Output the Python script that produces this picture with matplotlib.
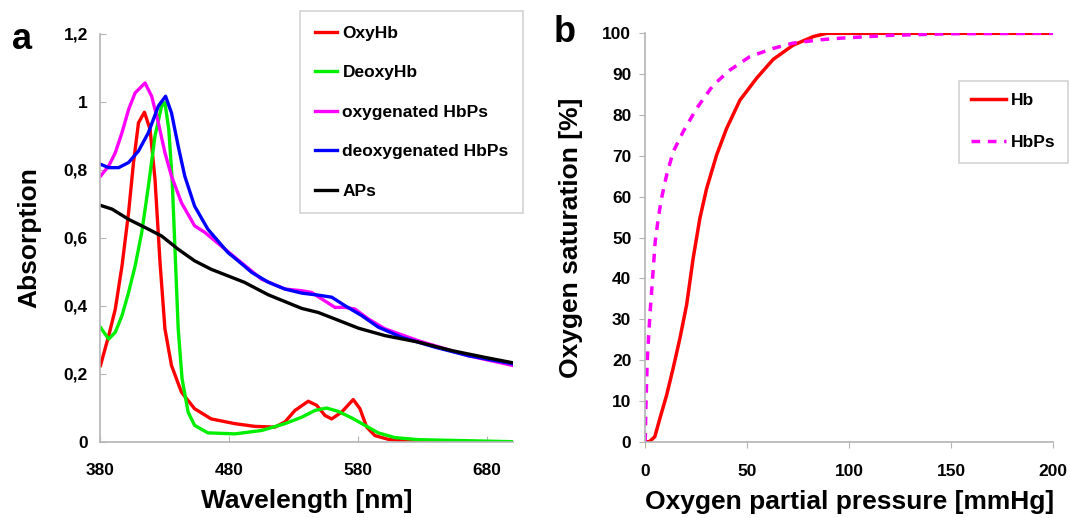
import matplotlib
matplotlib.use("Agg")
import matplotlib.pyplot as plt
from matplotlib.ticker import FuncFormatter

plt.rcParams['font.family'] = ['Liberation Sans', 'DejaVu Sans']
plt.rcParams['font.weight'] = 'bold'

# panel a - absorption spectra
wl_oxy = [380, 386.4, 391.5, 396.7, 401.8, 405.6, 409.5, 414.1, 418.5, 422.3, 426.2, 430,
          435.1, 442.8, 453, 465.9, 484.3, 499.9, 515.4, 523.1, 530.9, 541.2, 547.7, 554.2,
          559.4, 567.1, 576.1, 581.3, 586.5, 592.9, 603.3, 618.8, 700]
oxyhb = [0.224, 0.312, 0.39, 0.517, 0.674, 0.82, 0.938, 0.969, 0.918, 0.772, 0.527, 0.332,
         0.224, 0.146, 0.097, 0.067, 0.053, 0.045, 0.043, 0.058, 0.092, 0.119, 0.107, 0.077,
         0.067, 0.087, 0.124, 0.097, 0.043, 0.018, 0.007, 0.0, 0.0]

wl_deoxy = [380, 386.4, 391.5, 396.7, 401.8, 406.9, 412, 417.2, 422.3, 427.4, 430, 433, 435.6,
            437.7, 440.3, 443.3, 448, 453, 463.3, 484.3, 505, 523.1, 536.1, 546.4, 555.4,
            564.5, 574.9, 585.2, 595.5, 608.5, 626.5, 700]
deoxyhb = [0.336, 0.302, 0.322, 0.371, 0.439, 0.517, 0.615, 0.752, 0.899, 0.987, 0.997, 0.918,
           0.772, 0.576, 0.332, 0.185, 0.087, 0.048, 0.026, 0.023, 0.033, 0.053, 0.072, 0.092,
           0.099, 0.089, 0.07, 0.048, 0.026, 0.012, 0.006, 0.0]

wl_oxy_hbps = [380, 386.4, 391.5, 396.7, 401.8, 406.9, 414.6, 419.7, 424.9, 430, 435.1, 442.8,
               453, 460.8, 484.3, 505, 523.1, 536.1, 543.8, 551.6, 561.9, 569.7, 577.4, 587.8,
               600.7, 626.5, 665.3, 700]
oxy_hbps = [0.781, 0.811, 0.85, 0.909, 0.977, 1.026, 1.055, 1.016, 0.938, 0.85, 0.781, 0.703,
            0.635, 0.616, 0.542, 0.478, 0.449, 0.444, 0.439, 0.42, 0.395, 0.395, 0.39, 0.361,
            0.332, 0.297, 0.253, 0.224]

wl_deoxy_hbps = [380, 386.4, 394.1, 401.8, 409.5, 417.2, 424.9, 430.5, 435.1, 440.3, 445.4,
                 453, 463.3, 478.7, 491.5, 497.3, 510.2, 523.1, 536.1, 549, 559.4, 569.7,
                 582.6, 595.5, 613.7, 639.5, 665.3, 700]
deoxy_hbps = [0.816, 0.806, 0.806, 0.821, 0.855, 0.909, 0.987, 1.016, 0.967, 0.869, 0.781,
              0.693, 0.625, 0.557, 0.517, 0.498, 0.469, 0.449, 0.437, 0.431, 0.425, 0.4,
              0.371, 0.337, 0.307, 0.278, 0.253, 0.229]

wl_aps = [380, 389, 401.8, 414.6, 427.4, 440.3, 453, 465.9, 478.7, 491.5, 510.2, 536.1, 549,
          561.9, 580, 600.7, 626.5, 652.4, 678.3, 700]
aps = [0.695, 0.684, 0.654, 0.63, 0.605, 0.566, 0.532, 0.507, 0.488, 0.469, 0.432, 0.392,
       0.38, 0.361, 0.334, 0.312, 0.293, 0.268, 0.248, 0.232]

# panel b - oxygen saturation curves
po2_hb = [0, 2, 4.7, 7.2, 10.5, 13.7, 17, 20.3, 23.5, 26.8, 30.1, 35, 39.9, 46.4, 54.6, 62.7,
          72.5, 82.4, 88.9, 200]
sat_hb = [0, 0, 1.2, 5.7, 11.4, 18, 25.3, 33.5, 44.9, 54.7, 62, 70.2, 76.7, 83.6, 89, 93.6,
          97.1, 99.2, 100, 100]
po2_hbps = [0, 0.3, 1, 2.3, 3.6, 4.9, 6.4, 8, 10.5, 13.7, 18.6, 25.2, 33.3, 41.5, 51.3, 62.7,
            72.5, 85.6, 95.4, 120, 150, 200]
sat_hbps = [0, 8, 20, 31, 40, 49, 54.7, 59.6, 65.3, 71, 75.9, 81.6, 87.3, 91, 94.3, 96.3,
            97.6, 98.4, 98.8, 99.5, 99.9, 100]

fig = plt.figure(figsize=(10.7, 5.18), dpi=100)
axa = fig.add_axes([0.0939, 0.1473, 0.3855, 0.7877])
axb = fig.add_axes([0.603, 0.1473, 0.3813, 0.7884])

lw = 2.4
axa.plot(wl_oxy, oxyhb, color='#ff0000', lw=lw, label='OxyHb')
axa.plot(wl_deoxy, deoxyhb, color='#00ee00', lw=lw, label='DeoxyHb')
axa.plot(wl_oxy_hbps, oxy_hbps, color='#ff00ff', lw=lw, label='oxygenated HbPs')
axa.plot(wl_deoxy_hbps, deoxy_hbps, color='#0000ff', lw=lw, label='deoxygenated HbPs')
axa.plot(wl_aps, aps, color='black', lw=lw, label='APs')

axa.set_xlim(380, 700)
axa.set_ylim(0, 1.2)
axa.set_xticks([380, 480, 580, 680])
axa.set_yticks([0, 0.2, 0.4, 0.6, 0.8, 1.0, 1.2])
axa.yaxis.set_major_formatter(FuncFormatter(lambda v, p: ('%g' % round(v, 1)).replace('.', ',')))
axa.set_xlabel('Wavelength [nm]', fontsize=19, fontweight='bold', labelpad=8)
axa.set_ylabel('Absorption', fontsize=19, fontweight='bold', labelpad=16)
axa.tick_params(axis='x', direction='in', length=4, pad=15)
axa.tick_params(axis='y', direction='in', length=4, pad=9)
leg = axa.legend(loc='upper left', bbox_to_anchor=(0.4836, 1.0556), fontsize=12.5, frameon=True,
                 fancybox=False, handlelength=1.3, handletextpad=0.3, labelspacing=1.4,
                 borderpad=0.85, borderaxespad=0)
leg.get_frame().set_edgecolor('#c8c8c8')
leg.get_frame().set_linewidth(1.2)

axb.plot(po2_hb, sat_hb, color='#ff0000', lw=2.5, label='Hb')
axb.plot(po2_hbps, sat_hbps, color='#ff00ff', lw=2.5, ls=(0, (2.5, 2.2)), label='HbPs')
axb.set_xlim(0, 200)
axb.set_ylim(0, 100)
axb.set_xticks([0, 50, 100, 150, 200])
axb.set_yticks(range(0, 101, 10))
axb.set_xlabel('Oxygen partial pressure [mmHg]', fontsize=19, fontweight='bold', labelpad=8)
axb.set_ylabel('Oxygen saturation [%]', fontsize=19, fontweight='bold', labelpad=14)
axb.tick_params(axis='x', direction='out', length=4, pad=12)
axb.tick_params(axis='y', direction='out', length=4, pad=6)
legb = axb.legend(loc='upper left', bbox_to_anchor=(0.769, 0.884), fontsize=12.5, frameon=True,
                  fancybox=False, handlelength=2.0, handletextpad=0.3, labelspacing=1.57,
                  borderpad=0.7, borderaxespad=0)
legb.get_frame().set_edgecolor('#c8c8c8')
legb.get_frame().set_linewidth(1.2)

for ax in (axa, axb):
    ax.spines['top'].set_visible(False)
    ax.spines['right'].set_visible(False)
    ax.spines['left'].set_color('#b4b4b4')
    ax.spines['bottom'].set_color('#b4b4b4')
    ax.spines['left'].set_linewidth(1.2)
    ax.spines['bottom'].set_linewidth(1.2)
    ax.tick_params(colors='#b4b4b4', labelcolor='black', labelsize=12.5)
    for t in ax.get_xticklabels() + ax.get_yticklabels():
        t.set_fontweight('bold')

fig.text(0.011, 0.905, 'a', fontsize=26, fontweight='bold')
fig.text(0.517, 0.918, 'b', fontsize=26, fontweight='bold')

fig.savefig('out.png', dpi=100)
